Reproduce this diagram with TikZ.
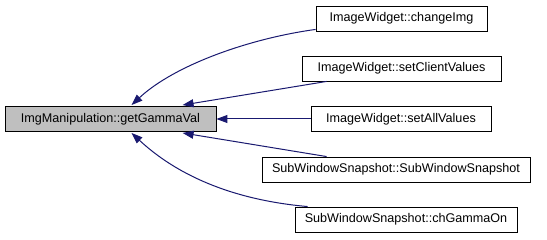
\documentclass[tikz,border=0pt]{standalone}
\usepackage{fontspec}
\setmainfont{Liberation Sans}
\usetikzlibrary{arrows.meta,calc}
\definecolor{edgeblue}{HTML}{191970}
\definecolor{focusgray}{HTML}{BFBFBF}
\tikzset{
  fn/.style={draw=black, line width=0.9pt, fill=white, minimum height=25pt,
    inner sep=0pt, font=\fontsize{12.6}{15}\selectfont, anchor=center},
  focus/.style={fn, fill=focusgray},
  edge/.style={draw=edgeblue, line width=1pt,
    {Triangle[length=11pt,width=8pt]}-},
}
\begin{document}
\begin{tikzpicture}[x=1pt,y=-1pt]
\useasboundingbox (0,0) rectangle (547,240);
\fill[white] (0,0) rectangle (547,240);

\node[focus, minimum width=211pt] (main) at (110.5,119) {ImgManipulation::getGammaVal};

\node[fn, minimum width=171pt] (ci) at (401.5,18.5) {ImageWidget::changeImg};
\node[fn, minimum width=199pt] (scv) at (401.5,68.5) {ImageWidget::setClientValues};
\node[fn, minimum width=180pt] (sav) at (401,119) {ImageWidget::setAllValues};
\node[fn, minimum width=268pt] (sws) at (396,169.5) {SubWindowSnapshot::SubWindowSnapshot};
\node[fn, minimum width=222pt] (cgo) at (406,219.5) {SubWindowSnapshot::chGammaOn};

% caller edges, arrowheads at the called function
\draw[edge] ($(main.north west)+(127,-1)$) .. controls ($(main.north west)+(170,-41)$) and ($(ci.south west)+(-66,7)$) .. ($(ci.south west)+(0,-2)$);
\draw[edge] ($(main.north west)+(178,-1)$) -- ($(scv.south west)+(25,0)$);
\draw[edge] (main.east) -- (sav.west);
\draw[edge] ($(main.south west)+(178,1)$) -- ($(sws.north west)+(65,0)$);
\draw[edge] ($(main.south west)+(127,1)$) .. controls ($(main.south west)+(170,41)$) and ($(cgo.north west)+(-66,-7)$) .. ($(cgo.north west)+(13,0)$);
\end{tikzpicture}
\end{document}
